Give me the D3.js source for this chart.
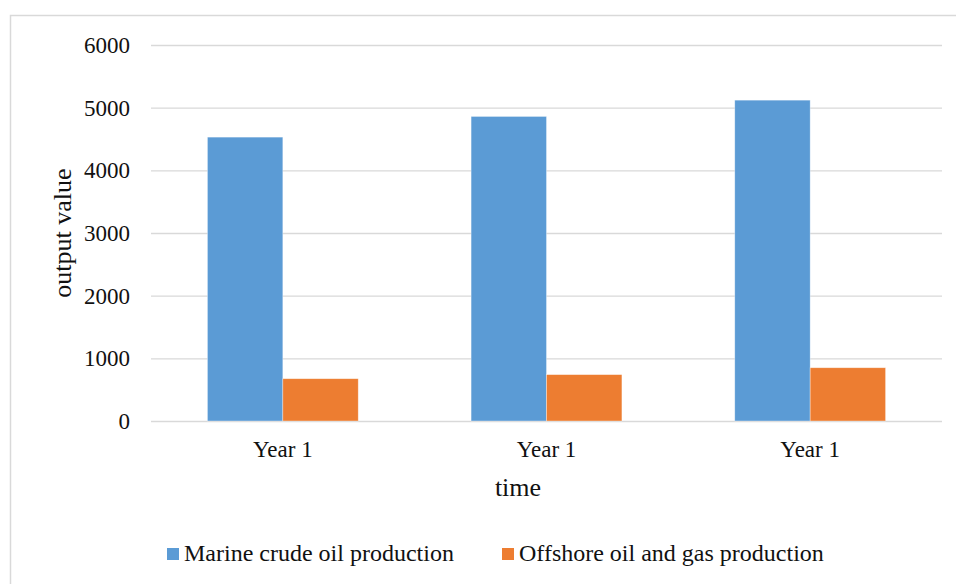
<!DOCTYPE html>
<html lang="en">
<head>
    <meta charset="UTF-8">
    <title>Output value</title>
    <script src="https://d3js.org/d3.v7.min.js"></script>
    <style>
        body { margin: 0; background: #fff; }
        text { font-family: "Liberation Serif", "Times New Roman", serif; fill: #111; }
    </style>
</head>
<body>
<script type="text/javascript">
    var categories = ["Year 1", "Year 1", "Year 1"];
    var seriesNames = ["Marine crude oil production", "Offshore oil and gas production"];
    var marineValues = [4530, 4860, 5120];
    var offshoreValues = [675, 740, 850];
    var yTicks = [0, 1000, 2000, 3000, 4000, 5000, 6000];

    var colors = ["#5b9bd5", "#ed7d31"];
    var svgWidth = 956, svgHeight = 584;
    var plotLeft = 151, plotRight = 942, plotTop = 45, plotBottom = 421;
    var fontSize = 23;

    var svg = d3.select("body").append("svg")
        .attr("width", svgWidth)
        .attr("height", svgHeight);

    // chart border (right/bottom edges run off the picture)
    svg.append("rect")
        .attr("x", 10.5).attr("y", 15.5)
        .attr("width", 960).attr("height", 600)
        .attr("fill", "#fff")
        .attr("stroke", "#d9d9d9")
        .attr("stroke-width", 1.5);

    var idx = d3.range(categories.length);
    var xScale = d3.scaleBand()
        .domain(idx)
        .range([plotLeft, plotRight])
        .paddingInner(0.428)
        .paddingOuter(0.214);
    var xSub = d3.scaleBand()
        .domain([0, 1])
        .range([0, xScale.bandwidth()]);
    var yScale = d3.scaleLinear()
        .domain([0, 6000])
        .range([plotBottom, plotTop]);

    // gridlines + y labels
    var yAxis = d3.axisLeft(yScale)
        .tickValues(yTicks)
        .tickSize(-(plotRight - plotLeft))
        .tickPadding(21)
        .tickFormat(d3.format("d"));
    var gy = svg.append("g")
        .attr("transform", "translate(" + plotLeft + ",0)")
        .call(yAxis);
    gy.select(".domain").remove();
    gy.selectAll(".tick line").attr("stroke", "#d9d9d9").attr("stroke-width", 1.3);
    gy.selectAll(".tick text")
        .attr("font-size", fontSize + "px")
        .attr("font-family", null)
        .attr("fill", "#111");

    var rows = idx.map(function (i) {
        return [marineValues[i], offshoreValues[i]];
    });

    svg.append("g")
        .selectAll("g")
        .data(rows)
        .enter()
        .append("g")
        .attr("transform", function (d, i) {
            return "translate(" + xScale(i) + ",0)";
        })
        .selectAll("rect")
        .data(function (d) { return d; })
        .enter()
        .append("rect")
        .attr("x", function (d, j) { return xSub(j); })
        .attr("y", function (d) { return yScale(d); })
        .attr("width", xSub.bandwidth())
        .attr("height", function (d) { return plotBottom - yScale(d); })
        .attr("fill", function (d, j) { return colors[j]; })
        .attr("stroke", "#fff")
        .attr("stroke-opacity", 0.5)
        .attr("stroke-width", 0.7);

    // x labels
    var xAxis = d3.axisBottom(xScale)
        .tickSize(0)
        .tickPadding(20)
        .tickFormat(function (i) { return categories[i]; });
    var gx = svg.append("g")
        .attr("transform", "translate(0," + plotBottom + ")")
        .call(xAxis);
    gx.select(".domain").remove();
    gx.selectAll(".tick text")
        .attr("font-size", fontSize + "px")
        .attr("font-family", null)
        .attr("fill", "#111");

    // axis titles
    svg.append("text")
        .attr("transform", "translate(71," + ((plotTop + plotBottom) / 2) + ") rotate(-90)")
        .attr("text-anchor", "middle")
        .attr("font-size", "26px")
        .text("output value");
    svg.append("text")
        .attr("x", 518)
        .attr("y", 496)
        .attr("text-anchor", "middle")
        .attr("font-size", "26px")
        .text("time");

    // legend
    var legendX = [167, 502];
    var legend = svg.append("g")
        .selectAll("g")
        .data(seriesNames)
        .enter()
        .append("g")
        .attr("transform", function (d, i) {
            return "translate(" + legendX[i] + ",548)";
        });
    legend.append("rect")
        .attr("width", 12).attr("height", 12)
        .attr("fill", function (d, i) { return colors[i]; });
    legend.append("text")
        .attr("x", 17)
        .attr("y", 13)
        .attr("font-size", "24px")
        .text(function (d) { return d; });
</script>
</body>
</html>
